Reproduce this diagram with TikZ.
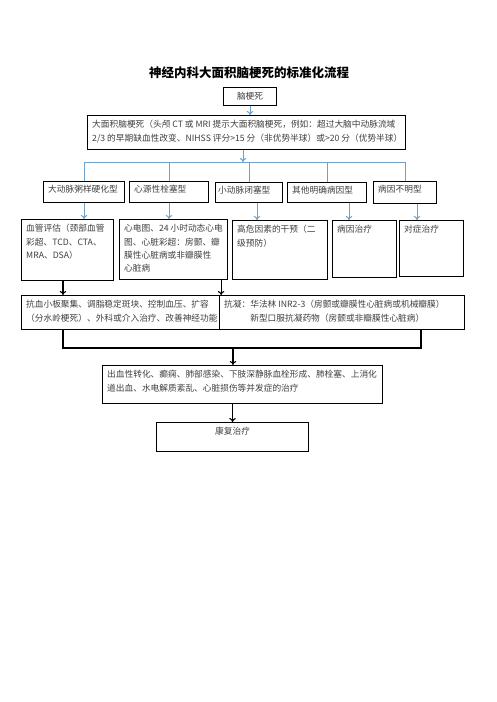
\documentclass[tikz,border=0pt]{standalone}
\usepackage{fontspec}
\setmainfont{Noto Sans CJK SC}
\usepackage{xcolor}
\usepackage{tikz}
\usetikzlibrary{arrows.meta}
\definecolor{flowblue}{RGB}{110,160,205}
\tikzset{>={To[length=4pt,width=6.5pt]}}
\tikzset{box/.style={draw=black,line width=1.1pt,inner sep=0pt,anchor=north west},
         txt/.style={anchor=north west,inner xsep=5pt,inner ysep=5.3pt,align=left,
                     text=black!75,font=\fontsize{8.7}{13.3}\selectfont},
         ctxt/.style={anchor=north,inner sep=0pt,inner ysep=5.3pt,align=center,
                     text=black!75,font=\fontsize{8.7}{13.3}\selectfont},
         blue line/.style={draw=flowblue,line width=1pt},
         blue arrow/.style={draw=flowblue,line width=1pt,->},
         black arrow/.style={draw=black,line width=1.1pt,->},
            }
\begin{document}
\begin{tikzpicture}[x=1pt,y=-1pt]

    \fill[white] (0,0) rectangle (496,702);
    \useasboundingbox (0,0) rectangle (496,702);

    \node[font=\fontsize{12.5}{14}\selectfont\bfseries] (title) at (249,73) {神经内科大面积脑梗死的标准化流程};

    % stroke and imaging
    \node[box,minimum width=53pt,minimum height=18pt] (top) at (223,87) {};
    \node[ctxt] (topt) at (top.north) {脑梗死};
    \node[box,minimum width=318pt,minimum height=34pt] (big) at (87,115) {};
    \node[txt] (bigt) at (big.north west) {大面积脑梗死（头颅 CT 或 MRI 提示大面积脑梗死，例如：超过大脑中动脉流域\\2/3 的早期缺血性改变、NIHSS 评分>15 分（非优势半球）或>20 分（优势半球）};

    % subtypes
    \node[box,minimum width=81pt,minimum height=21pt] (c1) at (43,181) {};
    \node[box,minimum width=79pt,minimum height=21pt] (c2) at (129,181) {};
    \node[box,minimum width=67pt,minimum height=20pt] (c3) at (215,182) {};
    \node[box,minimum width=79pt,minimum height=20pt] (c4) at (287,182) {};
    \node[box,minimum width=63pt,minimum height=22pt] (c5) at (373,181) {};
    \node[txt,inner ysep=3.8pt] (c1t) at (c1.north west) {大动脉粥样硬化型};
    \node[txt,inner ysep=3.8pt] (c2t) at (c2.north west) {心源性栓塞型};
    \node[txt,inner xsep=3pt,inner ysep=3.8pt] (c3t) at (c3.north west) {小动脉闭塞型};
    \node[txt,inner ysep=3.8pt] (c4t) at (c4.north west) {其他明确病因型};
    \node[txt,inner ysep=3.8pt] (c5t) at (c5.north west) {病因不明型};

    % work-up per subtype
    \node[box,minimum width=92pt,minimum height=61pt] (r1) at (21,219) {};
    \node[box,minimum width=108pt,minimum height=60pt] (r2) at (119,219) {};
    \node[box,minimum width=95pt,minimum height=59pt] (r3) at (232,220) {};
    \node[box,minimum width=64pt,minimum height=57pt] (r4) at (332,220) {};
    \node[box,minimum width=64pt,minimum height=56pt] (r5) at (399,220) {};
    \node[txt] (r1t) at (r1.north west) {血管评估（颈部血管\\彩超、TCD、CTA、\\MRA、DSA）};
    \node[txt] (r2t) at (r2.north west) {心电图、24 小时动态心电\\图、心脏彩超：房颤、瓣\\膜性心脏病或非瓣膜性\\心脏病};
    \node[txt] (r3t) at (r3.north west) {高危因素的干预（二\\级预防）};
    \node[txt] (r4t) at (r4.north west) {病因治疗};
    \node[txt] (r5t) at (r5.north west) {对症治疗};

    % treatment
    \node[box,minimum width=198pt,minimum height=34pt] (t1) at (21,295) {};
    \node[box,minimum width=245pt,minimum height=34pt] (t2) at (219,295) {};
    \node[txt] (t1t) at (t1.north west) {抗血小板聚集、调脂稳定斑块、控制血压、扩容\\（分水岭梗死）、外科或介入治疗、改善神经功能};
    \node[txt] (t2t) at (t2.north west) {抗凝：华法林 INR2-3（房颤或瓣膜性心脏病或机械瓣膜）\\\hspace*{3em}新型口服抗凝药物（房颤或非瓣膜性心脏病）};
    \node[box,minimum width=280pt,minimum height=38pt] (comp) at (102,365) {};
    \node[txt] (compt) at (comp.north west) {出血性转化、癫痫、肺部感染、下肢深静脉血栓形成、肺栓塞、上消化\\道出血、水电解质紊乱、心脏损伤等并发症的治疗};
    \node[box,minimum width=152pt,minimum height=29pt] (rehab) at (156,422) {};
    \node[ctxt] (rehabt) at (rehab.north) {康复治疗};

    % connectors
    \coordinate (bus) at (243,162);
    \coordinate (jl) at (63,348);
    \coordinate (jr) at (421,348);
    \coordinate (jm) at (233,348);

    \path[blue arrow] (top.south) -- (top.south |- big.north);
    \path[blue arrow] (big.south -| bus) -- (bus);
    \path[blue line] (c1.north) -- (c1.north |- bus) -- (c5.north |- bus) -- (c5.north);
    \foreach \c in {c2,c3,c4}
        \path[blue line] (\c.north |- bus) -- (\c.north);
    \foreach \i/\dx in {1/0,2/0,3/8,4/22,5/12}
        \path[blue arrow] ([xshift=\dx pt]c\i.south) -- ([xshift=\dx pt]c\i.south |- r\i.north);

    \path[black arrow] (r1.south -| jl) -- (t1.north -| jl);
    \path[black arrow] ([xshift=-7pt]r2.south east) -- ([xshift=-7pt]r2.south east |- t1.north);
    \path[draw,line width=1.1pt] (t1.south -| jl) -- (jl) -- (jr) -- (t2.south -| jr);
    \path[black arrow] (jm) -- (jm |- comp.north);
    \path[black arrow] (rehab.north |- comp.south) -- (rehab.north);

\end{tikzpicture}
\end{document}
